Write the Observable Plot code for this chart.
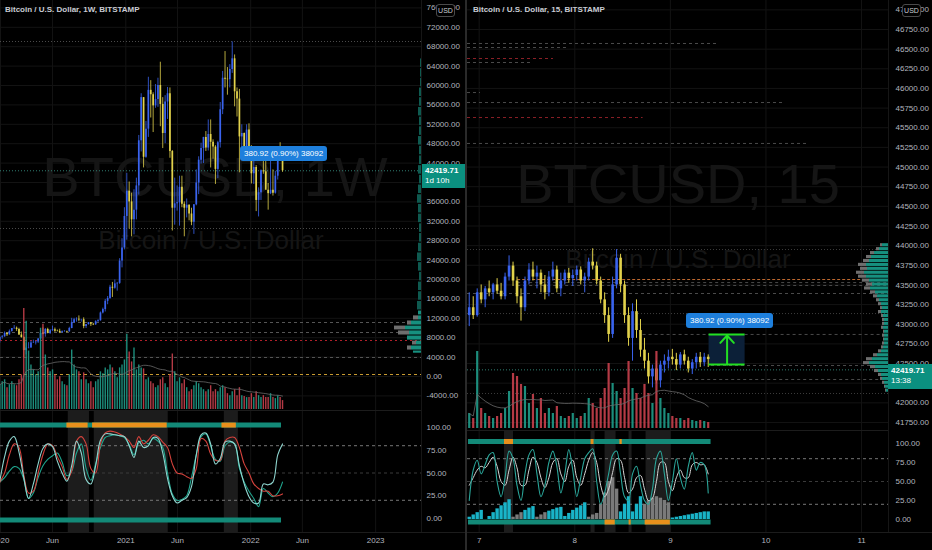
<!DOCTYPE html>
<html><head><meta charset="utf-8">
<script src="https://cdn.jsdelivr.net/npm/d3@7"></script>
<script src="https://cdn.jsdelivr.net/npm/@observablehq/plot@0.6"></script>
<style>
html,body{margin:0;padding:0;background:#000;}
#root{position:relative;width:932px;height:550px;background:#000;overflow:hidden;font-family:"Liberation Sans",Arial,sans-serif;}
.ov{position:absolute;white-space:nowrap;}
</style></head><body><div id="root"></div>
<script>
// ================= LEFT PANEL DATA (weekly, BTC/USD) =================
const wFirst = "2019-12-30", wLast = "2022-04-04";
const wOpen = [7400,8050,8180,8900,8600,9300,9900,9950,9700,8550,8050,5350,5850,5900,6900,6950,7100,7750,8900,8700,9700,8900,9450,9650,9350,9300,9000,9250,9300,9200,9900,11100,11700,11800,11650,11700,10300,10700,11100,10750,10650,11300,11500,13100,13800,15500,16100,18400,18200,19100,19200,23800,26500,33000,38200,36000,32300,34300,39300,48600,57500,45200,51000,59000,58100,55800,57100,60000,56100,50100,56600,58300,46400,34700,35600,35800,39000,35500,34700,35300,33500,31800,35400,39900,44600,47000,49300,47100,49900,48300,47300,42700,48200,55000,61500,61300,61200,63300,65500,58700,57200,49400,50100,46700,50800,47300,41800,43100,36300,37900,42400,42200,38400,37700,38400,37800,41300,46800,46400];
const wHigh = [8200,8450,9190,8990,9600,9900,10500,10200,9950,9180,8180,6900,6980,7300,7500,7300,7800,9450,10000,9900,9950,9700,10400,9990,9580,9750,9400,9450,9350,10150,12000,12000,12100,12500,11800,12100,10600,11100,11100,10950,11500,11700,13300,14100,15900,16500,18800,19400,19900,19400,24300,28400,34800,41900,40100,37800,38500,40900,49700,58300,57500,52600,61700,61000,58500,60200,61500,64800,57500,57900,59600,59500,46600,40900,39300,41300,41300,36000,36600,35400,34700,35400,42600,45300,48100,49300,50500,52900,52900,48800,47600,48500,56500,62900,67000,63700,64300,69000,66300,59500,59200,51900,50200,51900,52100,47600,44500,43500,38900,42600,45800,44800,39800,45400,42600,42300,47200,48200,47200];
const wLow = [6900,7700,8100,8250,8500,9150,9700,9300,8450,7900,3850,4450,5700,5850,6800,6500,6800,7650,8600,8100,8800,8650,9300,9100,9200,8850,8950,9150,9000,9150,9850,10950,11200,11300,11200,9850,9900,10600,10300,10500,10550,11200,11400,12900,13300,14800,15900,16300,18000,17600,19000,22400,26100,28100,30400,28800,29200,32300,37400,46300,43000,45000,49300,53300,50300,55300,55500,51500,47000,48000,53000,45000,30000,31200,34100,31000,34800,28800,32700,32100,31100,29300,35200,37500,43800,43900,46400,46500,43000,44800,39600,40800,47100,54000,59500,58000,59500,62500,55600,53500,42000,47000,45500,45600,45700,39700,39600,34000,32900,36300,41700,39600,34300,37500,37200,37600,40500,44900,42100];
const wClose = [8050,8180,8900,8600,9300,9900,9950,9700,8550,8050,5350,5850,5900,6900,6950,7100,7750,8900,8700,9700,8900,9450,9650,9350,9300,9000,9250,9300,9200,9900,11100,11700,11800,11650,11700,10300,10700,11100,10750,10650,11300,11500,13100,13800,15500,16100,18400,18200,19100,19200,23800,26500,33000,38200,36000,32300,34300,39300,48600,57500,45200,51000,59000,58100,55800,57100,60000,56100,50100,56600,58300,46400,34700,35600,35800,39000,35500,34700,35300,33500,31800,35400,39900,44600,47000,49300,47100,49900,48300,47300,42700,48200,55000,61500,61300,61200,63300,65500,58700,57200,49400,50100,46700,50800,47300,41800,43100,36300,37900,42400,42200,38400,37700,38400,37800,41300,46800,46400,42420];
// weekly volume (thousand BTC)
const wVol = [25,28,30,22,25,28,25,24,30,35,102,89,59,45,40,35,38,82,86,55,42,38,40,35,30,33,28,25,24,35,60,45,40,38,30,37,30,26,28,22,28,30,38,36,42,40,45,42,38,32,42,45,50,76,58,48,62,40,45,42,41,30,32,28,26,22,24,30,32,26,22,35,56,38,28,32,26,30,22,18,20,24,28,26,22,20,18,20,24,18,20,18,22,24,22,16,14,18,20,14,22,14,13,12,12,16,12,18,14,12,14,12,12,16,12,11,14,12,9];
const lastPrice = 42419.71;
// horizontal levels drawn on the weekly chart
const lDotted = [69070, 30515];
const lDashed = [11134, 9072, 3918];
const lRed = [7420];
const lOrange = [412];
// volume profile (weekly)
const lpLo = [4700,5350,6400,7400,8450,9500,10500,11550,12600];
const lpHi = [5350,6400,7400,8450,9500,10500,11550,12600,13600];
const lpUp = [8,10,5,14,12,16,10,3,3];
const lpDn = [0,4,4,0,11,11,4,5,0];
const lpThinStart = 13600, lpThinStep = 2000;
const lpThin = [4,3,3,2,3,4,3,2,2,3,3,4,3,2,3,2,2,3,2,2,3,2,2,1,1,1];
// stoch (bi-weekly samples)
const sFirst = "2019-12-30";
const sK = [41,68,85,90,73,45,22,38,60,77,82,79,63,50,41,58,85,72,43,38,58,86,93,93,92,91,90,80,67,85,78,80,89,88,72,44,25,17,20,23,35,70,92,94,82,60,66,84,85,82,58,38,24,17,17,38,37,40,70,82];
const sD = [40,50,70,82,78,48,28,30,50,70,82,80,68,57,43,52,85,90,82,55,50,82,94,96,95,93,90,85,78,90,82,86,92,90,84,78,60,50,49,46,44,55,88,85,71,64,64,85,89,89,78,60,50,38,33,30,30,25,25,27];
const sG = [40,45,52,57,55,43,22,28,45,58,65,69,72,62,47,52,72,82,55,42,60,78,89,91,92,91,89,81,70,83,86,82,88,85,78,50,27,20,21,25,45,70,90,93,80,65,63,80,84,82,55,40,30,22,13,33,28,24,28,40];
const lShadeS = ["2020-07-17","2020-10-01","2021-10-16"];
const lShadeE = ["2020-09-17","2021-05-05","2021-11-26"];
const lBandOrS = ["2020-07-13","2020-09-26","2021-10-09"];
const lBandOrE = ["2020-09-13","2021-05-02","2021-11-20"];
const lBandS = "2020-01-01", lBandE = "2022-04-01";
const lTimeTicks = ["2020-01-01","2020-06-01","2021-01-01","2021-06-01","2022-01-01","2022-06-01","2023-01-01"];
const lTimeLabels = ["2020","Jun","2021","Jun","2022","Jun","2023"];

// ================= RIGHT PANEL DATA (hourly aggregation of 15m) =================
const hFirst = "2022-04-06T21:00Z";
const hOpen = [43110,43210,43110,43400,43310,43450,43400,43500,43420,43350,43600,43740,43550,43350,43210,43550,43690,43600,43650,43500,43400,43600,43690,43450,43550,43650,43580,43620,43690,43550,43600,43790,43740,43550,43310,43110,42870,43500,43840,43500,43110,42820,43160,42920,42670,42530,42330,42430,42280,42480,42530,42580,42550,42480,42610,42530,42430,42510,42580,42510,42580];
const hHigh = [43400,43350,43450,43500,43480,43550,43520,43580,43520,43650,43870,43790,43600,43450,43600,43770,43790,43740,43690,43620,43670,43790,43740,43650,43690,43710,43690,43740,43730,43650,43840,43960,43790,43600,43400,43210,43600,43950,43890,43550,43210,43260,43310,43060,42820,42630,42480,42530,42530,42610,42670,42680,42630,42640,42670,42580,42550,42630,42640,42630,42610];
const hLow = [42970,43060,43090,43260,43210,43350,43310,43380,43310,43310,43550,43480,43260,43040,43160,43500,43550,43450,43400,43310,43350,43550,43400,43350,43500,43520,43480,43550,43500,43400,43550,43690,43500,43260,43010,42770,42820,43450,43400,43010,42720,42530,42820,42580,42430,42240,42190,42240,42190,42380,42430,42480,42410,42430,42480,42380,42360,42430,42450,42460,42450];
const hClose = [43210,43110,43400,43310,43450,43400,43500,43420,43350,43600,43740,43550,43350,43210,43550,43690,43600,43650,43500,43400,43600,43690,43450,43550,43650,43580,43620,43690,43550,43600,43790,43740,43550,43310,43110,42870,43500,43840,43500,43110,42820,43160,42920,42670,42530,42330,42430,42280,42480,42530,42580,42550,42480,42610,42530,42430,42510,42580,42510,42580,42550];
const hVol = [15,10,77,20,15,12,10,12,15,20,37,55,52,44,42,25,34,20,30,15,20,15,22,12,10,12,15,10,12,15,30,25,20,30,40,65,45,37,30,40,67,40,35,30,44,35,25,77,30,20,15,12,10,10,8,10,8,7,8,7,6];
const hK = [25,65,78,60,72,85,88,50,30,55,90,80,45,25,60,85,92,60,30,45,75,90,70,35,60,92,65,30,55,80,88,93,50,20,35,60,85,90,60,30,25,60,70,45,25,20,40,80,90,60,25,50,80,55,40,70,88,65,75,72,35];
const hD = [45,55,65,70,68,75,82,70,50,45,65,82,68,45,45,65,82,75,55,42,55,75,80,60,50,70,78,55,45,60,78,88,75,45,30,40,62,80,78,55,35,40,55,58,40,25,28,50,75,75,50,38,55,65,55,55,72,75,72,72,60];
const hHist = [3,6,9,12,0,4,9,14,18,22,26,3,6,9,12,15,17,3,6,9,11,13,15,16,4,8,12,15,18,22,3,6,8,20,35,50,55,40,10,20,30,10,20,30,20,25,28,30,28,25,22,2,3,4,5,6,7,8,9,10,10];
const hHistCyan = [1,1,1,1,1,1,1,1,1,1,1,0,0,0,1,1,1,0,0,0,1,1,1,1,1,1,1,1,1,1,0,0,0,0,0,0,0,0,1,1,1,1,1,1,0,0,0,0,0,0,0,1,1,1,1,1,1,1,1,1,1];
const rLevelP   = [46572,46521,46381,46330,45948,45821,45630,45300,43951,43569,43530,43493,43391,43136,42870,42475,42297,42119];
const rLevelS   = ["2022-04-06T21:04Z","2022-04-06T21:04Z","2022-04-06T21:04Z","2022-04-06T21:04Z","2022-04-06T21:04Z","2022-04-06T21:04Z","2022-04-06T21:04Z","2022-04-06T21:04Z","2022-04-06T21:04Z","2022-04-07T09:40Z","2022-04-07T09:40Z","2022-04-07T09:40Z","2022-04-06T21:04Z","2022-04-06T21:04Z","2022-04-08T17:09Z","2022-04-09T10:20Z","2022-04-09T00:20Z","2022-04-06T21:04Z"];
const rLevelE   = ["2022-04-09T11:44Z","2022-04-07T21:55Z","2022-04-07T18:39Z","2022-04-07T12:53Z","2022-04-07T00:20Z","2022-04-10T04:16Z","2022-04-08T17:09Z","2022-04-10T10:20Z","2022-04-11T06:46Z","2022-04-11T06:46Z","2022-04-11T06:46Z","2022-04-11T06:46Z","2022-04-11T06:46Z","2022-04-11T06:46Z","2022-04-11T06:46Z","2022-04-11T06:46Z","2022-04-11T06:46Z","2022-04-11T06:46Z"];
const rLevelKind= ["g","g","r","g","g","g","r","g","d","o","g","g","g","d","g","g","g","d"];
const rpStart = 42130, rpStep = 50;
const rpUp = [2,3,4,6,7,10,13,19,16,11,7,5,4,4,4,4,5,4,4,5,7,6,7,9,11,13,18,16,19,22,24,21,22,19,17,14,9,6];
const rpDn = [1,1,2,2,3,4,5,6,6,4,3,2,2,1,2,1,2,2,2,2,3,2,3,3,4,5,6,6,7,8,8,7,8,6,5,4,3,2];
const rShadeS = ["2022-04-07T06:21Z","2022-04-08T04:05Z","2022-04-08T07:36Z","2022-04-08T13:38Z","2022-04-08T17:54Z"];
const rShadeE = ["2022-04-07T08:37Z","2022-04-08T05:06Z","2022-04-08T10:22Z","2022-04-08T14:23Z","2022-04-09T00:11Z"];
const rTopOrS = ["2022-04-07T06:21Z","2022-04-08T04:05Z","2022-04-08T11:20Z"];
const rTopOrE = ["2022-04-07T08:37Z","2022-04-08T04:50Z","2022-04-08T11:55Z"];
const rBotOrS = ["2022-04-08T07:36Z","2022-04-08T13:38Z","2022-04-08T17:40Z"];
const rBotOrE = ["2022-04-08T10:10Z","2022-04-08T14:10Z","2022-04-09T00:00Z"];
const rBandS = "2022-04-06T21:19Z", rBandE = "2022-04-09T10:13Z";
const measureT = ["2022-04-09T09:43Z","2022-04-09T18:46Z"];
const measureP = [42489, 42870];
const rTimeTicks = ["2022-04-07","2022-04-08","2022-04-09","2022-04-10","2022-04-11"];

// ================= BUILD =================
const root = document.getElementById("root");
const UP = "#3a63ee", DN = "#e2d24c", TEAL = "#1f9c8a", RED = "#c8404c";
const S = {background:"transparent", color:"#b2b5be", fontFamily:"Liberation Sans, Arial, sans-serif", fontSize:"8px", overflow:"visible"};
const dt = s => new Date(s.length === 10 ? s + "T00:00Z" : s);
function put(svg, left, top){ svg.style.position="absolute"; svg.style.left=left+"px"; svg.style.top=top+"px"; root.appendChild(svg); }
function div(html, css){ const d=document.createElement("div"); d.className="ov"; d.innerHTML=html; Object.assign(d.style, css); root.appendChild(d); return d; }

const wDates = d3.utcMonday.range(dt(wFirst), d3.utcDay.offset(dt(wLast),1));
const weekly = wDates.map((date,i)=>({date,o:wOpen[i],h:wHigh[i],l:wLow[i],c:wClose[i],v:wVol[i],col:wClose[i]>=wOpen[i]?UP:DN,vc:wClose[i]>=wOpen[i]?TEAL:RED}));
const LXD = [dt("2020-01-01"), dt("2023-05-15")];
const lpTicks = d3.range(-4000, 76001, 4000);
const lTT = lTimeTicks.map(dt);
const fmt2 = d => d.toFixed(2);

// --- left price pane
put(Plot.plot({
  width:466, height:410, marginLeft:0, marginRight:45, marginTop:0, marginBottom:0, style:S,
  x:{type:"utc", domain:LXD, axis:null}, y:{domain:[-7010,77526], axis:null}, color:{type:"identity"},
  marks:[
    Plot.ruleY(lpTicks,{stroke:"#131313"}),
    Plot.ruleX(lTT,{stroke:"#131313"}),
    Plot.text(["BTCUSD, 1W"],{frameAnchor:"middle", dx:4, dy:-27, fontSize:56, fill:"#151515"}),
    Plot.text(["Bitcoin / U.S. Dollar"],{frameAnchor:"middle", dx:0, dy:35, fontSize:26, fill:"#151515"}),
    Plot.ruleY(lDotted,{stroke:"#4a4a4a", strokeDasharray:"1,2"}),
    Plot.ruleY(lDashed,{stroke:"#555", strokeDasharray:"3,3"}),
    Plot.ruleY(lRed,{stroke:"#b0202a", strokeDasharray:"2,3"}),
    Plot.ruleY(lOrange,{stroke:"#c89a30", strokeDasharray:"3,3"}),
    Plot.ruleY([lastPrice],{stroke:"#2f7d70", strokeDasharray:"1,2"}),
    Plot.ruleX(weekly,{x:"date", y1:"l", y2:"h", stroke:"col", strokeWidth:0.8}),
    Plot.ruleX(weekly,{x:"date", y1:"o", y2:"c", stroke:"col", strokeWidth:1.7}),
    Plot.axisY(lpTicks,{anchor:"right", tickSize:0, tickPadding:5, tickFormat:fmt2, fill:"#b2b5be"})
  ]}), 0, 0);

// --- left volume overlay
put(Plot.plot({
  width:466, height:110, marginLeft:0, marginRight:45, marginTop:0, marginBottom:1, style:S,
  x:{type:"utc", domain:LXD, axis:null}, y:{domain:[0,110], axis:null}, color:{type:"identity"},
  marks:[
    Plot.ruleX(weekly,{x:"date", y1:0, y2:"v", stroke:"vc", strokeWidth:1.4, strokeOpacity:0.9}),
    Plot.lineY(weekly, Plot.windowY({k:20, anchor:"end"},{x:"date", y:"v", stroke:"#6a6a6a", strokeWidth:0.8}))
  ]}), 0, 300);

// --- left volume profile overlay
const lProf = lpLo.map((lo,i)=>({lo, hi:lpHi[i], up:lpUp[i], tot:lpUp[i]+lpDn[i]}));
const lThin = lpThin.map((w,i)=>({lo:lpThinStart+i*lpThinStep, hi:lpThinStart+(i+1)*lpThinStep, w}));
put(Plot.plot({
  width:466, height:410, marginLeft:0, marginRight:45, marginTop:0, marginBottom:0, style:S,
  x:{domain:[0,100], range:[421,321], axis:null}, y:{domain:[-7010,77526], axis:null},
  marks:[
    Plot.rectX(lThin,{x1:0, x2:"w", y1:"lo", y2:"hi", fill:"#0e5a50", insetTop:0.6, insetBottom:0.6}),
    Plot.rectX(lProf,{x1:"up", x2:"tot", y1:"lo", y2:"hi", fill:"#6e6e6e", insetTop:0.5, insetBottom:0.5}),
    Plot.rectX(lProf,{x1:0, x2:"up", y1:"lo", y2:"hi", fill:"#16907f", insetTop:0.5, insetBottom:0.5})
  ]}), 0, 0);

// --- left stoch pane + time axis
const sDates = sK.map((_,i)=>d3.utcDay.offset(dt(sFirst), 14*i));
const stoch = sDates.map((date,i)=>({date,k:sK[i],d:sD[i],g:sG[i]}));
const lBand = [{s:dt(lBandS),e:dt(lBandE),c:"#138a78"}, ...lBandOrS.map((s,i)=>({s:dt(s),e:dt(lBandOrE[i]),c:"#e8901c"}))];
put(Plot.plot({
  width:466, height:140, marginLeft:0, marginRight:45, marginTop:0, marginBottom:18, style:S,
  x:{type:"utc", domain:LXD, axis:null}, y:{domain:[-15.4,118.7], axis:null}, color:{type:"identity"},
  marks:[
    Plot.ruleX(lTT,{stroke:"#131313"}),
    Plot.rect(lShadeS.map((s,i)=>({s:dt(s),e:dt(lShadeE[i])})),{x1:"s", x2:"e", fill:"#1c1c1c"}),
    Plot.ruleY([80,20],{stroke:"#777", strokeDasharray:"3,3"}),
    Plot.ruleY([50],{stroke:"#3a3a3a", strokeDasharray:"3,3"}),
    Plot.ruleY(lBand,{y:102.7, x1:"s", x2:"e", stroke:"c", strokeWidth:5}),
    Plot.ruleY([{s:dt(lBandS),e:dt(lBandE)}],{y:-1.6, x1:"s", x2:"e", stroke:"#138a78", strokeWidth:5}),
    Plot.line(stoch,{x:"date", y:"g", stroke:"#1fa58e", strokeWidth:1.1, curve:"catmull-rom"}),
    Plot.line(stoch,{x:"date", y:"d", stroke:"#d4423c", strokeWidth:1.1, curve:"catmull-rom"}),
    Plot.line(stoch,{x:"date", y:"k", stroke:"#8fd6d0", strokeWidth:1.1, curve:"catmull-rom"}),
    Plot.axisY([0,25,50,75,100],{anchor:"right", tickSize:0, tickPadding:5, tickFormat:fmt2}),
    Plot.axisX(lTT,{anchor:"bottom", tickSize:0, tickPadding:5, tickFormat:(d,i)=>lTimeLabels[i]})
  ]}), 0, 410);

// ================= RIGHT =================
const RXD = [dt("2022-04-06T21:04Z"), dt("2022-04-11T06:46Z")];
const RYD = [41648, 47119];
const hDates = hOpen.map((_,i)=>d3.utcMinute.offset(dt(hFirst), 60*i+30));
const hourly = hDates.map((date,i)=>({date,o:hOpen[i],h:hHigh[i],l:hLow[i],c:hClose[i],v:hVol[i],k:hK[i],d:hD[i],hist:hHist[i],
  col:hClose[i]>=hOpen[i]?UP:DN, vc:hClose[i]>=hOpen[i]?TEAL:RED, hc:hHistCyan[i]?"#19b4c8":"#7a7a7a"}));
const rpTicks = d3.range(41750, 47001, 250);
const rTT = rTimeTicks.map(dt);
const levels = rLevelP.map((p,i)=>({p, s:dt(rLevelS[i]), e:dt(rLevelE[i]), k:rLevelKind[i]}));
const lv = k => levels.filter(d=>d.k===k);
const mBox = [{s:dt(measureT[0]), e:dt(measureT[1]), lo:measureP[0], hi:measureP[1], mid:new Date((dt(measureT[0]).getTime()+dt(measureT[1]).getTime())/2)}];

put(Plot.plot({
  width:465, height:430, marginLeft:0, marginRight:44, marginTop:0, marginBottom:0, style:S,
  x:{type:"utc", domain:RXD, axis:null}, y:{domain:RYD, axis:null}, color:{type:"identity"},
  marks:[
    Plot.ruleY(rpTicks,{stroke:"#131313"}),
    Plot.ruleX(rTT,{stroke:"#131313"}),
    Plot.text(["BTCUSD, 15"],{frameAnchor:"middle", dx:0, dy:-30, fontSize:56, fill:"#151515"}),
    Plot.text(["Bitcoin / U.S. Dollar"],{frameAnchor:"middle", dx:0, dy:44, fontSize:26, fill:"#151515"}),
    Plot.ruleY(lv("g"),{y:"p", x1:"s", x2:"e", stroke:"#4a4a4a", strokeDasharray:"3,3"}),
    Plot.ruleY(lv("d"),{y:"p", x1:"s", x2:"e", stroke:"#3c3c3c", strokeDasharray:"1,2"}),
    Plot.ruleY(lv("r"),{y:"p", x1:"s", x2:"e", stroke:"#8a1f26", strokeDasharray:"3,3"}),
    Plot.ruleY(lv("o"),{y:"p", x1:"s", x2:"e", stroke:"#c06a30", strokeDasharray:"3,2"}),
    Plot.ruleY([lastPrice],{stroke:"#2f7d70", strokeDasharray:"1,2"}),
    Plot.rect(mBox,{x1:"s", x2:"e", y1:"lo", y2:"hi", fill:"#0c2038"}),
    Plot.ruleX(hourly,{x:"date", y1:"l", y2:"h", stroke:"col", strokeWidth:1}),
    Plot.ruleX(hourly,{x:"date", y1:"o", y2:"c", stroke:"col", strokeWidth:2.6}),
    Plot.ruleY(mBox,{y:"lo", x1:"s", x2:"e", stroke:"#22e022", strokeWidth:2}),
    Plot.ruleY(mBox,{y:"hi", x1:"s", x2:"e", stroke:"#22e022", strokeWidth:2}),
    Plot.arrow(mBox,{x1:"mid", x2:"mid", y1:"lo", y2:"hi", stroke:"#22e022", strokeWidth:2, headLength:13, headAngle:85, insetEnd:1}),
    Plot.axisY(rpTicks,{anchor:"right", tickSize:0, tickPadding:7, tickFormat:fmt2})
  ]}), 467, 0);

// right volume overlay
put(Plot.plot({
  width:465, height:90, marginLeft:0, marginRight:44, marginTop:0, marginBottom:2, style:S,
  x:{type:"utc", domain:RXD, axis:null}, y:{domain:[0,88], axis:null}, color:{type:"identity"},
  marks:[
    Plot.ruleX(hourly,{x:"date", y1:0, y2:"v", stroke:"vc", strokeWidth:2.2, strokeOpacity:0.9}),
    Plot.lineY(hourly, Plot.windowY({k:20, anchor:"end"},{x:"date", y:"v", stroke:"#6a6a6a", strokeWidth:0.8}))
  ]}), 467, 340);

// right volume profile
const rProf = rpUp.map((u,i)=>({lo:rpStart+i*rpStep, hi:rpStart+(i+1)*rpStep, up:u, tot:u+rpDn[i]}));
put(Plot.plot({
  width:465, height:430, marginLeft:0, marginRight:44, marginTop:0, marginBottom:0, style:S,
  x:{domain:[0,100], range:[421,321], axis:null}, y:{domain:RYD, axis:null},
  marks:[
    Plot.rectX(rProf,{x1:"up", x2:"tot", y1:"lo", y2:"hi", fill:"#6e6e6e", insetTop:0.4, insetBottom:0.4}),
    Plot.rectX(rProf,{x1:0, x2:"up", y1:"lo", y2:"hi", fill:"#16907f", insetTop:0.4, insetBottom:0.4})
  ]}), 467, 0);

// right stoch pane + time axis
const rBand = [{s:dt(rBandS),e:dt(rBandE),c:"#138a78"}, ...rTopOrS.map((s,i)=>({s:dt(s),e:dt(rTopOrE[i]),c:"#e8901c"}))];
const rBandB = [{s:dt(rBandS),e:dt(rBandE),c:"#138a78"}, ...rBotOrS.map((s,i)=>({s:dt(s),e:dt(rBotOrE[i]),c:"#e8901c"}))];
put(Plot.plot({
  width:465, height:120, marginLeft:0, marginRight:44, marginTop:0, marginBottom:18, style:S,
  x:{type:"utc", domain:RXD, axis:null}, y:{domain:[-17.1,117.1], axis:null}, color:{type:"identity"},
  marks:[
    Plot.ruleX(rTT,{stroke:"#131313"}),
    Plot.rect(rShadeS.map((s,i)=>({s:dt(s),e:dt(rShadeE[i])})),{x1:"s", x2:"e", fill:"#1c1c1c"}),
    Plot.ruleY([80,20],{stroke:"#777", strokeDasharray:"3,3"}),
    Plot.ruleY([50],{stroke:"#3a3a3a", strokeDasharray:"3,3"}),
    Plot.ruleX(hourly,{x:"date", y1:0, y2:"hist", stroke:"hc", strokeWidth:3.4}),
    Plot.ruleY(rBand,{y:102.6, x1:"s", x2:"e", stroke:"c", strokeWidth:5}),
    Plot.ruleY(rBandB,{y:-3.3, x1:"s", x2:"e", stroke:"c", strokeWidth:5}),
    Plot.line(hourly,{x:"date", y:"d", stroke:"#d6d6d6", strokeWidth:1, curve:"catmull-rom"}),
    Plot.line(hourly,{x:"date", y:"k", stroke:"#2aa69a", strokeWidth:1.1, curve:"catmull-rom"}),
    Plot.axisY([0,25,50,75,100],{anchor:"right", tickSize:0, tickPadding:7, tickFormat:fmt2}),
    Plot.axisX(rTT,{anchor:"bottom", tickSize:0, tickPadding:5, tickFormat:d3.utcFormat("%-d")})
  ]}), 467, 430);

// ================= overlays (text labels, separators) =================
div("", {left:"0px", top:"410px", width:"421px", height:"1px", background:"#1c1c1c"});
div("", {left:"0px", top:"532px", width:"932px", height:"1px", background:"#1c1c1c"});
div("", {left:"467px", top:"430px", width:"421px", height:"1px", background:"#1c1c1c"});
div("", {left:"465px", top:"0px", width:"2px", height:"550px", background:"#2a2a2a"});
div("", {left:"421px", top:"0px", width:"1px", height:"532px", background:"#161616"});
div("", {left:"888px", top:"0px", width:"1px", height:"532px", background:"#161616"});
div("Bitcoin / U.S. Dollar, 1W, BITSTAMP", {left:"5px", top:"5px", fontSize:"8px", fontWeight:"bold", color:"#c9ccd4"});
div("Bitcoin / U.S. Dollar, 15, BITSTAMP", {left:"473px", top:"5px", fontSize:"8px", fontWeight:"bold", color:"#c9ccd4"});
const usdCss = {top:"4px", width:"17px", height:"11px", border:"1px solid #4a4a4a", borderRadius:"3px", background:"#000", color:"#c9ccd4", fontSize:"7px", lineHeight:"11px", textAlign:"center"};
div("USD", Object.assign({left:"436px"}, usdCss));
div("USD", Object.assign({left:"902px"}, usdCss));
const boxCss = {background:"#0b9080", color:"#fff", fontSize:"8px", lineHeight:"10px", padding:"2px 3px", boxSizing:"border-box"};
div("<b>42419.71</b><br>1d 10h", Object.assign({left:"422px", top:"164px", width:"43px", height:"24px"}, boxCss));
div("<b>42419.71</b><br>13:38", Object.assign({left:"888px", top:"364px", width:"44px", height:"25px"}, boxCss));
const blueCss = {background:"#1e7fdc", color:"#fff", fontSize:"8px", lineHeight:"15px", height:"15px", padding:"0 4px", borderRadius:"3px"};
div("380.92 (0.90%) 38092", Object.assign({left:"240px", top:"146px"}, blueCss));
div("380.92 (0.90%) 38092", Object.assign({left:"686px", top:"313px"}, blueCss));
</script></body></html>
